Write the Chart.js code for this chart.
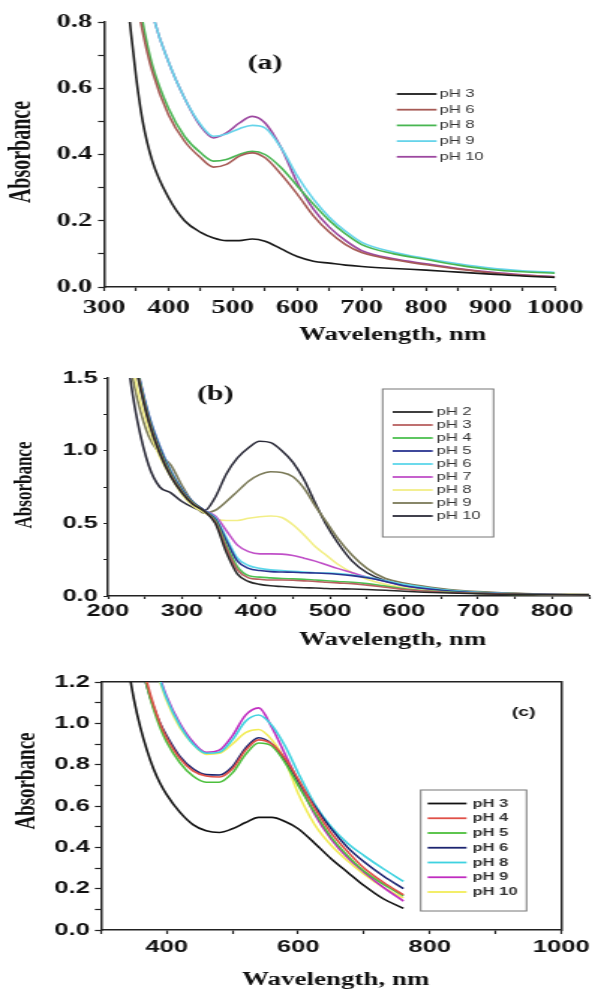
<!DOCTYPE html>
<html>
<head>
<meta charset="utf-8">
<script src="https://cdn.jsdelivr.net/npm/chart.js@4"></script>
<style>
  body { margin: 0; background: #fff; }
  #wrap { position: relative; width: 595px; height: 990px; overflow: hidden; }
  canvas { position: absolute; left: 0; }
</style>
</head>
<body>
<div id="wrap">
  <canvas id="chartA" width="397" height="345" style="top:0px;width:595px;height:345px"></canvas>
  <canvas id="chartB" width="397" height="307" style="top:345px;width:595px;height:307px"></canvas>
  <canvas id="chartC" width="397" height="338" style="top:652px;width:595px;height:338px"></canvas>
</div>
<script>
// ---- panel (a) ----
const wlA = [330, 340, 350, 360, 375, 400, 425, 450, 470, 490, 510, 530, 550, 575, 600, 625, 650, 675, 700, 750, 800, 850, 900, 950, 1000];
const a_pH3  = [0.98, 0.80, 0.63, 0.50, 0.38, 0.27, 0.20, 0.165, 0.148, 0.140, 0.140, 0.145, 0.138, 0.115, 0.092, 0.078, 0.072, 0.066, 0.062, 0.056, 0.051, 0.045, 0.039, 0.033, 0.029];
const a_pH6  = [1.30, 1.05, 0.88, 0.77, 0.65, 0.52, 0.44, 0.39, 0.362, 0.37, 0.395, 0.405, 0.39, 0.34, 0.28, 0.215, 0.165, 0.128, 0.104, 0.082, 0.067, 0.054, 0.043, 0.035, 0.030];
const a_pH8  = [1.35, 1.10, 0.92, 0.80, 0.67, 0.54, 0.455, 0.405, 0.38, 0.385, 0.40, 0.41, 0.40, 0.36, 0.305, 0.25, 0.20, 0.16, 0.128, 0.10, 0.083, 0.066, 0.053, 0.046, 0.042];
const a_pH9  = [1.60, 1.35, 1.15, 1.00, 0.83, 0.68, 0.57, 0.49, 0.455, 0.462, 0.478, 0.488, 0.48, 0.42, 0.335, 0.265, 0.21, 0.168, 0.135, 0.105, 0.086, 0.070, 0.057, 0.049, 0.044];
const a_pH10 = [1.60, 1.35, 1.15, 1.00, 0.83, 0.68, 0.57, 0.485, 0.45, 0.465, 0.495, 0.515, 0.495, 0.42, 0.315, 0.235, 0.18, 0.14, 0.11, 0.085, 0.070, 0.056, 0.045, 0.037, 0.031];
const namesA = ["pH 3", "pH 6", "pH 8", "pH 9", "pH 10"];

// ---- panel (b) ----
const wlB = [220, 230, 240, 255, 270, 285, 300, 315, 330, 345, 360, 375, 390, 405, 420, 435, 450, 465, 480, 495, 510, 530, 550, 575, 600, 650, 700, 775, 850];
const b_pH2  = [2.0, 1.8, 1.52, 1.2, 0.98, 0.82, 0.71, 0.63, 0.585, 0.50, 0.30, 0.15, 0.10, 0.08, 0.07, 0.065, 0.06, 0.057, 0.055, 0.052, 0.05, 0.048, 0.045, 0.04, 0.033, 0.022, 0.015, 0.01, 0.008];
const b_pH3  = [2.0, 1.8, 1.53, 1.21, 0.99, 0.83, 0.715, 0.635, 0.585, 0.51, 0.33, 0.18, 0.125, 0.115, 0.11, 0.11, 0.108, 0.104, 0.1, 0.095, 0.09, 0.085, 0.075, 0.06, 0.045, 0.028, 0.018, 0.01, 0.008];
const b_pH4  = [2.0, 1.8, 1.54, 1.22, 1.0, 0.84, 0.72, 0.64, 0.585, 0.52, 0.35, 0.2, 0.14, 0.13, 0.125, 0.12, 0.118, 0.115, 0.11, 0.105, 0.1, 0.095, 0.085, 0.068, 0.05, 0.03, 0.018, 0.01, 0.008];
const b_pH5  = [2.0, 1.82, 1.55, 1.24, 1.02, 0.85, 0.73, 0.645, 0.59, 0.53, 0.38, 0.24, 0.19, 0.175, 0.168, 0.165, 0.163, 0.16, 0.158, 0.155, 0.15, 0.14, 0.125, 0.1, 0.07, 0.04, 0.022, 0.012, 0.008];
const b_pH6  = [2.0, 1.82, 1.56, 1.25, 1.03, 0.86, 0.735, 0.645, 0.59, 0.54, 0.4, 0.26, 0.21, 0.19, 0.18, 0.175, 0.17, 0.165, 0.16, 0.158, 0.155, 0.145, 0.13, 0.105, 0.08, 0.045, 0.025, 0.012, 0.008];
const b_pH7  = [2.0, 1.82, 1.56, 1.25, 1.03, 0.86, 0.735, 0.645, 0.59, 0.55, 0.45, 0.35, 0.305, 0.29, 0.29, 0.288, 0.278, 0.26, 0.24, 0.215, 0.19, 0.16, 0.13, 0.1, 0.07, 0.04, 0.022, 0.012, 0.008];
const b_pH8  = [2.0, 1.7, 1.42, 1.15, 0.96, 0.82, 0.7, 0.62, 0.575, 0.53, 0.52, 0.52, 0.535, 0.545, 0.55, 0.54, 0.49, 0.42, 0.34, 0.28, 0.22, 0.16, 0.115, 0.08, 0.06, 0.035, 0.02, 0.012, 0.008];
const b_pH9  = [2.0, 1.6, 1.35, 1.1, 0.98, 0.9, 0.76, 0.64, 0.57, 0.59, 0.65, 0.72, 0.79, 0.835, 0.855, 0.85, 0.82, 0.74, 0.62, 0.51, 0.4, 0.28, 0.19, 0.12, 0.09, 0.052, 0.03, 0.015, 0.01];
const b_pH10 = [1.9, 1.5, 1.2, 0.9, 0.75, 0.71, 0.65, 0.61, 0.585, 0.68, 0.84, 0.95, 1.02, 1.065, 1.055, 1.0, 0.92, 0.8, 0.64, 0.49, 0.37, 0.24, 0.16, 0.105, 0.075, 0.045, 0.025, 0.013, 0.01];
const namesB = ["pH 2", "pH 3", "pH 4", "pH 5", "pH 6", "pH 7", "pH 8", "pH 9", "pH 10"];

// ---- panel (c) ----
const wlC = [340, 350, 360, 370, 380, 390, 400, 420, 440, 460, 480, 500, 520, 540, 560, 580, 600, 625, 650, 675, 700, 730, 760];
const c_pH3  = [1.30, 1.12, 0.98, 0.87, 0.78, 0.71, 0.655, 0.57, 0.51, 0.48, 0.472, 0.49, 0.52, 0.545, 0.545, 0.525, 0.49, 0.42, 0.345, 0.28, 0.215, 0.15, 0.105];
const c_pH4  = [1.62, 1.48, 1.34, 1.2, 1.09, 1.0, 0.93, 0.83, 0.77, 0.745, 0.74, 0.78, 0.87, 0.92, 0.9, 0.83, 0.73, 0.59, 0.47, 0.38, 0.3, 0.23, 0.17];
const c_pH5  = [1.6, 1.46, 1.32, 1.18, 1.07, 0.98, 0.91, 0.81, 0.745, 0.715, 0.715, 0.76, 0.85, 0.905, 0.89, 0.81, 0.7, 0.57, 0.45, 0.36, 0.285, 0.22, 0.165];
const c_pH6  = [1.6, 1.45, 1.3, 1.18, 1.08, 1.0, 0.94, 0.84, 0.78, 0.752, 0.75, 0.79, 0.88, 0.93, 0.9, 0.82, 0.72, 0.6, 0.49, 0.4, 0.33, 0.26, 0.2];
const c_pH8  = [1.9, 1.75, 1.6, 1.45, 1.32, 1.21, 1.12, 0.99, 0.9, 0.855, 0.86, 0.92, 1.01, 1.04, 0.99, 0.89, 0.76, 0.61, 0.5, 0.42, 0.36, 0.295, 0.235];
const c_pH9  = [1.95, 1.78, 1.62, 1.47, 1.34, 1.22, 1.13, 1.0, 0.91, 0.86, 0.87, 0.94, 1.04, 1.075, 0.98, 0.85, 0.72, 0.56, 0.44, 0.35, 0.28, 0.205, 0.14];
const c_pH10 = [1.9, 1.74, 1.58, 1.43, 1.3, 1.2, 1.11, 0.98, 0.9, 0.85, 0.855, 0.9, 0.955, 0.97, 0.92, 0.82, 0.66, 0.51, 0.41, 0.335, 0.27, 0.205, 0.155];
const namesC = ["pH 3", "pH 4", "pH 5", "pH 6", "pH 8", "pH 9", "pH 10"];

// canvases are drawn narrow and stretched 1.5x sideways, like the scanned figure
const SERIF = "Liberation Serif";
const SANS = "Liberation Sans";

// free text: axis captions and the (a)/(b)/(c) tags
const captions = {
  id: "captions",
  afterDraw(chart, args, opts) {
    const ctx = chart.ctx;
    (opts.items || []).forEach(it => {
      let x = it.x, y = it.y;
      if (it.atX !== undefined) {
        x = chart.scales.x.getPixelForValue(it.atX);
        y = chart.scales.y.getPixelForValue(it.atY);
      }
      ctx.save();
      ctx.font = it.font;
      ctx.fillStyle = "#111";
      ctx.textAlign = "center";
      ctx.textBaseline = "middle";
      ctx.translate(x, y);
      if (it.rotate) ctx.rotate(it.rotate);
      ctx.fillText(it.text, 0, 0);
      ctx.restore();
    });
  }
};

// legend drawn inside the plot, one row per dataset
const innerLegend = {
  id: "innerLegend",
  afterDraw(chart, args, o) {
    const ctx = chart.ctx;
    ctx.save();
    if (o.box) {
      ctx.strokeStyle = "#777";
      ctx.lineWidth = 1;
      ctx.strokeRect(o.box[0], o.box[1], o.box[2] - o.box[0], o.box[3] - o.box[1]);
    }
    chart.data.datasets.forEach((ds, i) => {
      const y = o.y + i * o.rowH;
      ctx.strokeStyle = ds.borderColor;
      ctx.lineWidth = 1.8;
      ctx.beginPath();
      ctx.moveTo(o.x0, y);
      ctx.lineTo(o.x1, y);
      ctx.stroke();
      ctx.fillStyle = "#333";
      ctx.font = o.font;
      ctx.textBaseline = "middle";
      ctx.textAlign = "left";
      ctx.fillText(ds.label, o.tx, y);
    });
    ctx.restore();
  }
};

function buildSets(wl, series, names, colors) {
  return series.map((vals, i) => ({
    label: names[i],
    data: wl.map((w, j) => ({ x: w, y: vals[j] })),
    borderColor: colors[i],
    borderWidth: 1.6,
    pointRadius: 0,
    cubicInterpolationMode: "monotone",
    fill: false
  }));
}

function axisFont(family, size) {
  return { family: family, size: size, weight: "bold" };
}

function makeChart(id, sets, c) {
  const scales = {
    x: {
      type: "linear", min: c.xMin, max: c.xMax,
      afterFit: s => { s.height = c.xHeight; },
      border: { display: true, color: "#222", width: 1.5 },
      grid: { drawOnChartArea: false, color: "#222", tickLength: c.tickLen, tickWidth: 1.2 },
      ticks: {
        stepSize: c.xStep, autoSkip: false, maxRotation: 0, padding: c.xPad,
        color: "#111", font: axisFont(c.tickFamily, c.tickSize),
        callback: v => (v % c.xLabelEvery === 0 ? String(v) : "")
      },
      title: { display: false }
    },
    y: {
      type: "linear", min: 0, max: c.yMax,
      afterFit: s => { s.width = c.yWidth; },
      border: { display: true, color: "#222", width: 1.5 },
      grid: { drawOnChartArea: false, color: "#222", tickLength: c.tickLen, tickWidth: 1.2 },
      ticks: {
        stepSize: c.yStep, autoSkip: false, padding: c.yPad,
        color: "#111", font: axisFont(c.tickFamily, c.tickSize),
        callback: v => {
          const k = Math.round(v / c.yStep);
          return k % c.yLabelEvery === 0 ? v.toFixed(1) : "";
        }
      },
      title: { display: false }
    }
  };
  if (c.frame) {
    scales.x2 = {
      type: "linear", position: "top", min: c.xMin, max: c.xMax,
      afterFit: s => { s.height = 0; },
      border: { display: true, color: "#222", width: 1.5 },
      grid: { display: false, drawTicks: false },
      ticks: { display: false }
    };
    scales.y2 = {
      type: "linear", position: "right", min: 0, max: c.yMax,
      afterFit: s => { s.width = 0; },
      border: { display: true, color: "#222", width: 1.5 },
      grid: { display: false, drawTicks: false },
      ticks: { display: false }
    };
  }
  return new Chart(document.getElementById(id), {
    type: "line",
    data: { datasets: sets },
    options: {
      responsive: false,
      devicePixelRatio: 1,
      animation: false,
      events: [],
      layout: { padding: c.padding },
      scales: scales,
      plugins: {
        legend: { display: false },
        tooltip: { enabled: false },
        captions: { items: c.captions },
        innerLegend: c.legend
      }
    },
    plugins: [captions, innerLegend]
  });
}

// (a)
makeChart("chartA",
  buildSets(wlA, [a_pH3, a_pH6, a_pH8, a_pH9, a_pH10], namesA,
    ["#1a1a1a", "#a65a55", "#48b652", "#66d4ea", "#9c48a0"]),
  {
    xMin: 300, xMax: 1000, xStep: 50, xLabelEvery: 100,
    yMax: 0.8, yStep: 0.1, yLabelEvery: 2,
    tickFamily: SERIF, tickSize: 19, tickLen: 4, xPad: 6, yPad: 4,
    yWidth: 69.4, xHeight: 58,
    padding: { left: 0, right: 26.7, top: 22, bottom: 0 },
    captions: [
      { text: "Absorbance", x: 15.3, y: 152, rotate: -Math.PI / 2, font: "bold 20px " + SERIF },
      { text: "Wavelength, nm", x: 262, y: 335, font: "bold 18px " + SERIF },
      { text: "(a)", atX: 550, atY: 0.673, font: "bold 20px " + SERIF }
    ],
    legend: { x0: 264.7, x1: 291.3, tx: 293.3, y: 94, rowH: 15.7, font: "11px " + SANS }
  });

// (b)
makeChart("chartB",
  buildSets(wlB, [b_pH2, b_pH3, b_pH4, b_pH5, b_pH6, b_pH7, b_pH8, b_pH9, b_pH10], namesB,
    ["#2a2a2a", "#b86060", "#4cc050", "#2a3490", "#5cd6ea", "#c050c8", "#f2ee86", "#7b7a58", "#2c2c3a"]),
  {
    xMin: 200, xMax: 850, xStep: 50, xLabelEvery: 100,
    yMax: 1.5, yStep: 0.25, yLabelEvery: 2,
    tickFamily: SANS, tickSize: 17, tickLen: 3, xPad: 2.5, yPad: 3.7,
    yWidth: 72, xHeight: 56,
    padding: { left: 0, right: 4, top: 33, bottom: 0 },
    captions: [
      { text: "Absorbance", x: 16.7, y: 140, rotate: -Math.PI / 2, font: "bold 17px " + SERIF },
      { text: "Wavelength, nm", x: 262, y: 295, font: "bold 18px " + SERIF },
      { text: "(b)", atX: 345, atY: 1.383, font: "bold 20px " + SERIF }
    ],
    legend: { x0: 262, x1: 288.7, tx: 291.3, y: 67, rowH: 13, font: "11px " + SANS,
              box: [255.3, 44, 329.3, 192] }
  });

// (c)
makeChart("chartC",
  buildSets(wlC, [c_pH3, c_pH4, c_pH5, c_pH6, c_pH8, c_pH9, c_pH10], namesC,
    ["#111111", "#e05048", "#4cbf3c", "#1c2470", "#3ed2e0", "#c02cc0", "#f2ec58"]),
  {
    xMin: 300, xMax: 1000, xStep: 100, xLabelEvery: 200,
    yMax: 1.2, yStep: 0.1, yLabelEvery: 2,
    tickFamily: SANS, tickSize: 17, tickLen: 4, xPad: 3.6, yPad: 3.3,
    yWidth: 67.3, xHeight: 60, frame: true,
    padding: { left: 0, right: 21, top: 30, bottom: 0 },
    captions: [
      { text: "Absorbance", x: 18, y: 129, rotate: -Math.PI / 2, font: "bold 19px " + SERIF },
      { text: "Wavelength, nm", x: 224, y: 328, font: "bold 18px " + SERIF },
      { text: "(c)", atX: 943, atY: 1.055, font: "bold 13px " + SANS }
    ],
    legend: { x0: 285.3, x1: 311.3, tx: 315.3, y: 151.5, rowH: 14.75, font: "bold 11px " + SANS,
              box: [280.7, 138, 351.3, 259] }
  });
</script>
</body>
</html>
